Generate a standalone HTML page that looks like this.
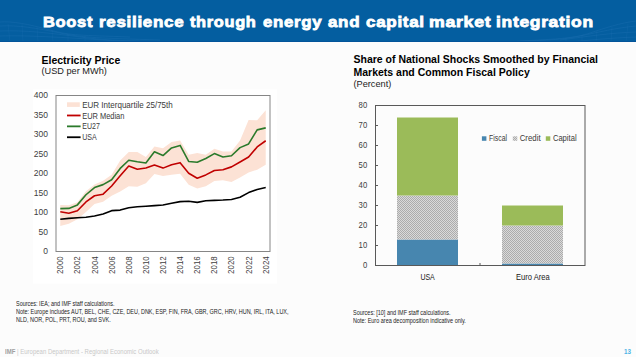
<!DOCTYPE html>
<html><head><meta charset="utf-8">
<style>
html,body{margin:0;padding:0;}
body{width:636px;height:357px;overflow:hidden;position:relative;background:#fcfcfc;font-family:"Liberation Sans",sans-serif;}
.hdr{position:absolute;left:0;top:0;width:636px;height:42px;background:#045ea0;overflow:hidden;}
.tw{position:absolute;top:12px;font-weight:bold;font-size:15.5px;line-height:20px;color:#fff;white-space:nowrap;letter-spacing:0.63px;-webkit-text-stroke:0.8px #fff;transform-origin:0 0;}
.t{position:absolute;white-space:nowrap;color:#000;}
.ct{font-weight:bold;font-size:10.5px;line-height:12.5px;}
.sub{font-size:9.2px;line-height:11px;color:#222;}
.note{position:absolute;font-size:6.9px;line-height:8.1px;color:#222;white-space:nowrap;transform-origin:0 0;}
svg{position:absolute;left:0;top:0;}
.ax{font-size:8.2px;fill:#404040;font-family:"Liberation Sans",sans-serif;}
.ay{font-size:8.5px;fill:#404040;font-family:"Liberation Sans",sans-serif;}
.lg{font-size:8.9px;fill:#3a3a3a;font-family:"Liberation Sans",sans-serif;}
.lg2{font-size:8.2px;fill:#3a3a3a;font-family:"Liberation Sans",sans-serif;}
.cat{font-size:9px;fill:#222;font-family:"Liberation Sans",sans-serif;}
.foot{position:absolute;left:4.6px;top:348.2px;font-size:6.6px;line-height:8px;color:#c8c8c8;white-space:nowrap;transform:scaleX(0.91);transform-origin:0 0;}
.foot b{color:#a0a0a0;}
.pg{position:absolute;left:624.3px;top:347.8px;font-size:7.3px;line-height:8px;font-weight:bold;color:#4db3e6;transform:scaleX(0.86);transform-origin:0 0;}
</style></head><body>
<div class="hdr">
<svg width="636" height="42" viewBox="0 0 636 42">
<g fill="none" stroke="#2d7bbd" stroke-width="0.7" opacity="0.35">
<path d="M0,22 C12,21 28,24 50,30 S80,35 130,37"/>
<path d="M0,26 C18,25 36,28 60,33 S100,38 160,40"/>
<path d="M0,31 C25,30 50,33 80,37 S130,41 200,42"/>
<path d="M0,36 C30,35 70,38 120,41"/>
<path d="M636,21 C620,23 605,28 590,33 S560,39 520,41"/>
<path d="M636,26 C615,28 600,32 580,36 S550,40 500,42"/>
<path d="M636,32 C610,33 590,36 560,40"/>
<path d="M636,37 C610,38 590,40 570,42"/>
</g>
<g stroke="#2d7bbd" stroke-width="0.5" opacity="0.3">
<path d="M8,24 L10,42 M22,24 L23,42 M37,27 L38,42 M52,30 L53,42 M68,34 L68,42 M85,36 L85,42"/>
<path d="M628,24 L626,42 M612,27 L611,42 M597,31 L596,42 M582,35 L582,42 M566,38 L566,42"/>
</g>
<rect x="0" y="41" width="636" height="1" fill="#03549a"/>
</svg>
<span class="tw" style="left:42.93px;transform:scaleX(1.0652);">Boost</span><span class="tw" style="left:98.50px;transform:scaleX(1.0974);">resilience</span><span class="tw" style="left:190.00px;transform:scaleX(1.0565);">through</span><span class="tw" style="left:263.00px;transform:scaleX(1.0852);">energy</span><span class="tw" style="left:328.40px;transform:scaleX(1.0929);">and</span><span class="tw" style="left:366.00px;transform:scaleX(1.0981);">capital</span><span class="tw" style="left:429.36px;transform:scaleX(1.1415);">market</span><span class="tw" style="left:495.68px;transform:scaleX(1.1235);">integration</span>
</div>
<svg width="636" height="357" viewBox="0 0 636 357" style="top:0">
<rect x="33" y="89.5" width="244" height="194" fill="#fff"/>
<polygon points="60.28,204.89 68.84,205.36 77.40,202.28 85.96,191.36 94.52,184.62 103.08,180.72 111.64,174.67 120.20,160.55 128.76,152.05 137.32,152.05 145.88,157.12 154.44,146.59 163.00,148.15 171.56,142.03 180.12,140.43 188.68,154.78 197.24,153.06 205.80,154.78 214.36,148.74 222.92,151.54 231.48,151.54 240.04,140.51 248.60,119.95 257.16,120.34 265.72,110.24 265.72,164.69 257.16,169.68 248.60,172.52 240.04,177.56 231.48,182.08 222.92,180.13 214.36,180.91 205.80,186.37 197.24,188.59 188.68,184.81 180.12,173.81 171.56,174.71 163.00,176.03 154.44,173.89 145.88,183.25 137.32,186.76 128.76,186.37 120.20,191.44 111.64,195.73 103.08,201.78 94.52,203.96 85.96,212.11 77.40,219.13 68.84,223.81 60.28,225.95" fill="#fce2d5"/><polyline points="60.28,219.32 68.84,218.35 77.40,217.76 85.96,217.18 94.52,216.01 103.08,214.06 111.64,210.67 120.20,210.08 128.76,207.82 137.32,206.81 145.88,206.26 154.44,205.60 163.00,204.97 171.56,203.30 180.12,201.66 188.68,201.27 197.24,202.36 205.80,200.80 214.36,200.41 222.92,200.02 231.48,199.44 240.04,197.29 248.60,192.61 257.16,189.49 265.72,187.42" fill="none" stroke="#000" stroke-width="1.6" stroke-linejoin="round"/><polyline points="60.28,211.72 68.84,213.28 77.40,210.75 85.96,201.97 94.52,195.73 103.08,194.17 111.64,185.98 120.20,175.84 128.76,166.09 137.32,169.21 145.88,168.04 154.44,165.08 163.00,168.12 171.56,164.76 180.12,162.66 188.68,173.19 197.24,178.30 205.80,174.90 214.36,170.46 222.92,169.68 231.48,166.87 240.04,162.07 248.60,157.04 257.16,146.94 265.72,140.74" fill="none" stroke="#c00000" stroke-width="1.6" stroke-linejoin="round"/><polyline points="60.28,208.60 68.84,208.41 77.40,204.89 85.96,194.75 94.52,187.54 103.08,184.62 111.64,179.74 120.20,168.43 128.76,160.24 137.32,161.80 145.88,162.97 154.44,151.85 163.00,155.56 171.56,147.92 180.12,145.42 188.68,161.49 197.24,162.27 205.80,158.56 214.36,153.61 222.92,157.04 231.48,155.75 240.04,147.64 248.60,143.94 257.16,129.90 265.72,127.87" fill="none" stroke="#2b7a2b" stroke-width="1.6" stroke-linejoin="round"/><rect x="56.0" y="95.5" width="214.0" height="156.0" fill="none" stroke="#868686" stroke-width="1"/><text x="47.9" y="254.30" text-anchor="end" class="ay">0</text><text x="47.9" y="234.80" text-anchor="end" class="ay">50</text><text x="47.9" y="215.30" text-anchor="end" class="ay">100</text><text x="47.9" y="195.80" text-anchor="end" class="ay">150</text><text x="47.9" y="176.30" text-anchor="end" class="ay">200</text><text x="47.9" y="156.80" text-anchor="end" class="ay">250</text><text x="47.9" y="137.30" text-anchor="end" class="ay">300</text><text x="47.9" y="117.80" text-anchor="end" class="ay">350</text><text x="47.9" y="98.30" text-anchor="end" class="ay">400</text><text transform="translate(63.28,256.3) rotate(-90)" text-anchor="end" class="ax" textLength="17.6" lengthAdjust="spacingAndGlyphs">2000</text><text transform="translate(80.40,256.3) rotate(-90)" text-anchor="end" class="ax" textLength="17.6" lengthAdjust="spacingAndGlyphs">2002</text><text transform="translate(97.52,256.3) rotate(-90)" text-anchor="end" class="ax" textLength="17.6" lengthAdjust="spacingAndGlyphs">2004</text><text transform="translate(114.64,256.3) rotate(-90)" text-anchor="end" class="ax" textLength="17.6" lengthAdjust="spacingAndGlyphs">2006</text><text transform="translate(131.76,256.3) rotate(-90)" text-anchor="end" class="ax" textLength="17.6" lengthAdjust="spacingAndGlyphs">2008</text><text transform="translate(148.88,256.3) rotate(-90)" text-anchor="end" class="ax" textLength="17.6" lengthAdjust="spacingAndGlyphs">2010</text><text transform="translate(166.00,256.3) rotate(-90)" text-anchor="end" class="ax" textLength="17.6" lengthAdjust="spacingAndGlyphs">2012</text><text transform="translate(183.12,256.3) rotate(-90)" text-anchor="end" class="ax" textLength="17.6" lengthAdjust="spacingAndGlyphs">2014</text><text transform="translate(200.24,256.3) rotate(-90)" text-anchor="end" class="ax" textLength="17.6" lengthAdjust="spacingAndGlyphs">2016</text><text transform="translate(217.36,256.3) rotate(-90)" text-anchor="end" class="ax" textLength="17.6" lengthAdjust="spacingAndGlyphs">2018</text><text transform="translate(234.48,256.3) rotate(-90)" text-anchor="end" class="ax" textLength="17.6" lengthAdjust="spacingAndGlyphs">2020</text><text transform="translate(251.60,256.3) rotate(-90)" text-anchor="end" class="ax" textLength="17.6" lengthAdjust="spacingAndGlyphs">2022</text><text transform="translate(268.72,256.3) rotate(-90)" text-anchor="end" class="ax" textLength="17.6" lengthAdjust="spacingAndGlyphs">2024</text><rect x="67" y="102.30" width="12.8" height="4.6" fill="#fce2d5"/><text x="82.2" y="107.70" class="lg" textLength="90.6" lengthAdjust="spacingAndGlyphs">EUR Interquartile 25/75th</text><line x1="67" y1="115.48" x2="80.6" y2="115.48" stroke="#c00000" stroke-width="1.8"/><text x="82.2" y="118.58" class="lg" textLength="42.2" lengthAdjust="spacingAndGlyphs">EUR Median</text><line x1="67" y1="126.36" x2="80.6" y2="126.36" stroke="#2b7a2b" stroke-width="1.8"/><text x="82.2" y="129.46" class="lg" textLength="17.6" lengthAdjust="spacingAndGlyphs">EU27</text><line x1="67" y1="137.24" x2="80.6" y2="137.24" stroke="#000" stroke-width="1.8"/><text x="82.2" y="140.34" class="lg" textLength="14.5" lengthAdjust="spacingAndGlyphs">USA</text>
<defs><pattern id="hp" width="2" height="2" patternUnits="userSpaceOnUse"><rect width="2" height="2" fill="#dadada"/><rect width="1" height="1" fill="#acacac"/><rect x="1" y="1" width="1" height="1" fill="#acacac"/></pattern></defs><rect x="397.0" y="239.5" width="61" height="26.0" fill="#4786af"/><rect x="397.0" y="195.5" width="61" height="44.0" fill="url(#hp)"/><rect x="397.0" y="117.5" width="61" height="78.0" fill="#9bbb59"/><rect x="502.0" y="263.5" width="61" height="2.0" fill="#4786af"/><rect x="502.0" y="225.5" width="61" height="38.0" fill="url(#hp)"/><rect x="502.0" y="205.5" width="61" height="20.0" fill="#9bbb59"/><rect x="375.5" y="105.5" width="209.5" height="160.0" fill="none" stroke="#595959" stroke-width="1"/><line x1="375.5" y1="245.5" x2="378.0" y2="245.5" stroke="#595959" stroke-width="1"/><line x1="375.5" y1="225.5" x2="378.0" y2="225.5" stroke="#595959" stroke-width="1"/><line x1="375.5" y1="205.5" x2="378.0" y2="205.5" stroke="#595959" stroke-width="1"/><line x1="375.5" y1="185.5" x2="378.0" y2="185.5" stroke="#595959" stroke-width="1"/><line x1="375.5" y1="165.5" x2="378.0" y2="165.5" stroke="#595959" stroke-width="1"/><line x1="375.5" y1="145.5" x2="378.0" y2="145.5" stroke="#595959" stroke-width="1"/><line x1="375.5" y1="125.5" x2="378.0" y2="125.5" stroke="#595959" stroke-width="1"/><line x1="480" y1="265.5" x2="480" y2="263.0" stroke="#595959" stroke-width="1"/><text x="367.2" y="268.10" text-anchor="end" class="ay" textLength="4.3" lengthAdjust="spacingAndGlyphs">0</text><text x="367.2" y="248.10" text-anchor="end" class="ay" textLength="8.6" lengthAdjust="spacingAndGlyphs">10</text><text x="367.2" y="228.10" text-anchor="end" class="ay" textLength="8.6" lengthAdjust="spacingAndGlyphs">20</text><text x="367.2" y="208.10" text-anchor="end" class="ay" textLength="8.6" lengthAdjust="spacingAndGlyphs">30</text><text x="367.2" y="188.10" text-anchor="end" class="ay" textLength="8.6" lengthAdjust="spacingAndGlyphs">40</text><text x="367.2" y="168.10" text-anchor="end" class="ay" textLength="8.6" lengthAdjust="spacingAndGlyphs">50</text><text x="367.2" y="148.10" text-anchor="end" class="ay" textLength="8.6" lengthAdjust="spacingAndGlyphs">60</text><text x="367.2" y="128.10" text-anchor="end" class="ay" textLength="8.6" lengthAdjust="spacingAndGlyphs">70</text><text x="367.2" y="108.10" text-anchor="end" class="ay" textLength="8.6" lengthAdjust="spacingAndGlyphs">80</text><text x="420.4" y="280" class="cat" textLength="14.4" lengthAdjust="spacingAndGlyphs">USA</text><text x="515.9" y="280" class="cat" textLength="33.8" lengthAdjust="spacingAndGlyphs">Euro Area</text><rect x="481.9" y="136.3" width="4.5" height="4.5" fill="#4786af"/><text x="489.1" y="141.2" class="lg2" textLength="18" lengthAdjust="spacingAndGlyphs">Fiscal</text><rect x="512.8" y="136.3" width="4.5" height="4.5" fill="url(#hp)"/><text x="519.7" y="141.2" class="lg2" textLength="20.9" lengthAdjust="spacingAndGlyphs">Credit</text><rect x="545.8" y="136.3" width="4.5" height="4.5" fill="#9bbb59"/><text x="552.9" y="141.2" class="lg2" textLength="23.7" lengthAdjust="spacingAndGlyphs">Capital</text>
</svg>
<div class="t ct" style="left:41.5px;top:53.5px;">Electricity Price</div>
<div class="t sub" style="left:41.5px;top:65.8px;">(USD per MWh)</div>
<div class="t ct" style="left:353.5px;top:53.2px;line-height:12.7px;">Share of National Shocks Smoothed by Financial<br>Markets and Common Fiscal Policy</div>
<div class="t sub" style="left:353.5px;top:78.5px;">(Percent)</div>
<div class="note" style="left:15.5px;top:299.6px;transform:scaleX(0.794);">Sources: IEA; and IMF staff calculations.<br>Note: Europe includes AUT, BEL, CHE, CZE, DEU, DNK, ESP, FIN, FRA, GBR, GRC, HRV, HUN, IRL, ITA, LUX,<br>NLD, NOR, POL, PRT, ROU, and SVK.</div>
<div class="note" style="left:352.8px;top:309.4px;transform:scaleX(0.797);line-height:7.5px;">Sources: [10] and IMF staff calculations.<br>Note: Euro area decomposition indicative only.</div>
<div class="foot"><b>IMF</b> | European Department - Regional Economic Outlook</div>
<div class="pg">13</div>
</body></html>
